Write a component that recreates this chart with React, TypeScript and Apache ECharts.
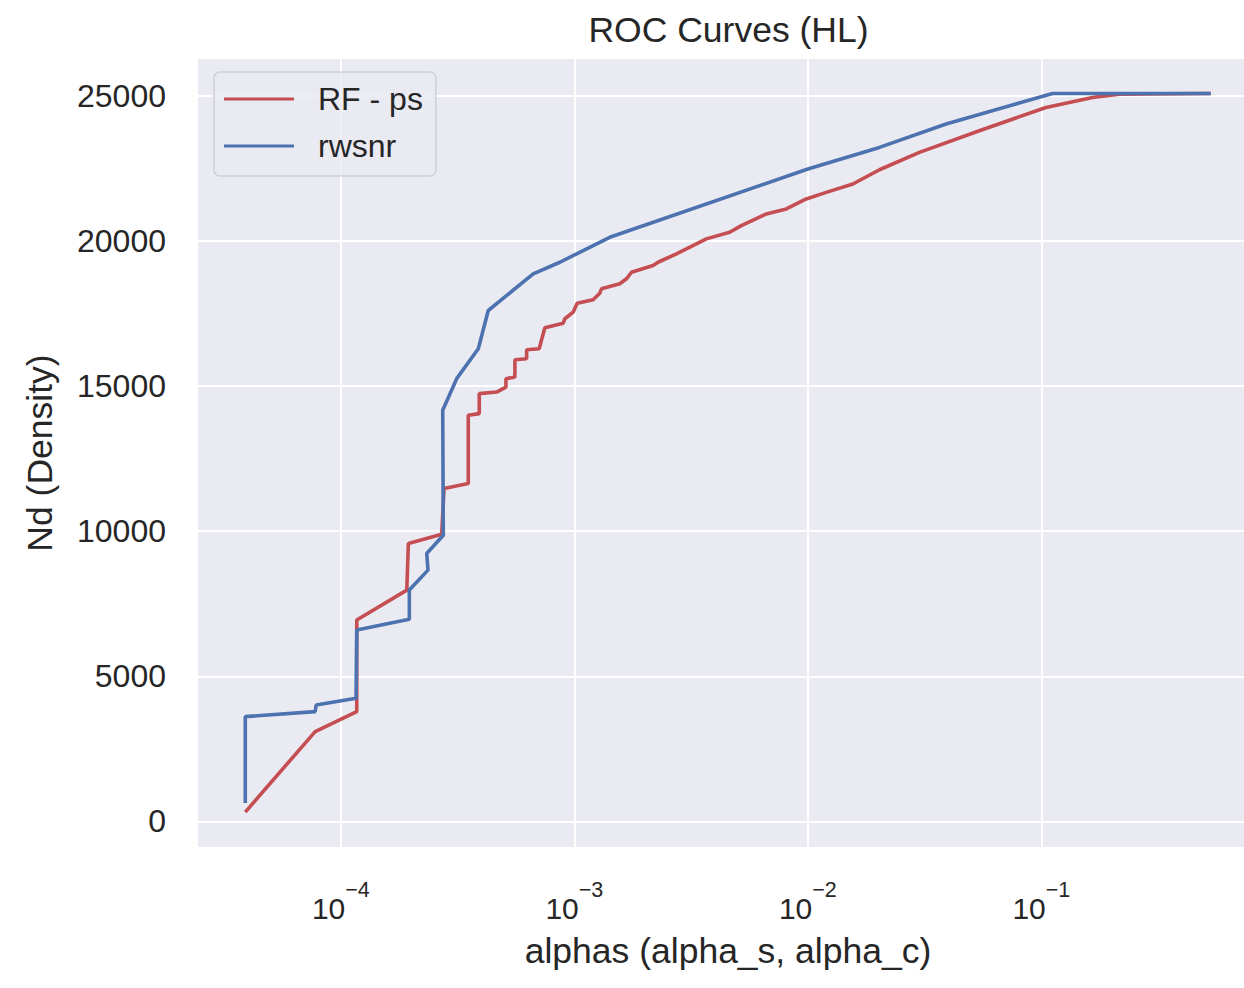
import React, { useEffect, useRef } from "react";
import * as echarts from "echarts";

const TITLE = "ROC Curves (HL)";
const X_NAME = "alphas (alpha_s, alpha_c)";
const Y_NAME = "Nd (Density)";
const SERIES_NAMES = ["RF - ps", "rwsnr"];
const Y_TICKS = [0, 5000, 10000, 15000, 20000, 25000];

// RF - ps : alpha values and Nd values
const rfAlpha = [
  3.897e-5, 7.765e-5, 1.17e-4, 1.17e-4, 1.916e-4, 1.946e-4, 2.704e-4, 2.766e-4,
  3.513e-4, 3.513e-4, 3.915e-4, 3.915e-4, 4.647e-4, 5.093e-4, 5.093e-4, 5.565e-4,
  5.565e-4, 6.246e-4, 6.246e-4, 7.07e-4, 7.238e-4, 7.477e-4, 8.955e-4, 9.107e-4,
  9.883e-4, 1.028e-3, 1.203e-3, 1.285e-3, 1.307e-3, 1.565e-3, 1.672e-3, 1.757e-3,
  2.173e-3, 2.283e-3, 2.736e-3, 3.675e-3, 4.625e-3, 5.189e-3, 6.639e-3, 8.084e-3,
  9.845e-3, 0.01199, 0.01558, 0.02026, 0.03004, 0.05424, 0.1046, 0.1656, 0.2154, 0.5313,
];
const rfNd = [
  323, 3096, 3784, 6938, 7970, 9577, 9897, 11469,
  11641, 13990, 14049, 14737, 14792, 14964, 15253, 15308,
  15906, 15941, 16251, 16285, 16595, 17007, 17165, 17317,
  17544, 17853, 17970, 18197, 18349, 18521, 18693, 18920,
  19150, 19264, 19553, 20069, 20296, 20526, 20928, 21100,
  21445, 21672, 21960, 22450, 23048, 23794, 24596, 24940, 25056, 25077,
];

// rwsnr : alpha values and Nd values
const rwAlpha = [
  3.897e-5, 3.897e-5, 7.765e-5, 7.84e-5, 1.162e-4, 1.17e-4, 1.965e-4, 1.965e-4,
  2.362e-4, 2.332e-4, 2.747e-4, 2.731e-4, 3.133e-4, 3.878e-4, 4.279e-4, 6.665e-4,
  8.67e-4, 1.418e-3, 0.01, 0.02026, 0.03908, 0.1117, 0.5313,
];
const rwNd = [
  633, 3612, 3784, 4014, 4245, 6594, 6962, 7970,
  8658, 9233, 9862, 14163, 15253, 16285, 17602, 18865,
  19264, 20124, 22477, 23220, 24025, 25077, 25077,
];

const COLORS = ["#C44E52", "#4C72B0"];
const FONT = "'Liberation Sans', Arial, sans-serif";
const TEXT = "#262626";

export default function App() {
  const ref = useRef<HTMLDivElement>(null);
  useEffect(() => {
    if (!ref.current) return;
    const chart = echarts.init(ref.current, undefined, { renderer: "svg" });
    const rf = rfAlpha.map((a, i) => [a, rfNd[i]]);
    const rw = rwAlpha.map((a, i) => [a, rwNd[i]]);
    chart.setOption({
      animation: false,
      backgroundColor: "#ffffff",
      textStyle: { fontFamily: FONT, color: TEXT },
      title: {
        text: TITLE,
        left: 723.5,
        textAlign: "center",
        top: 7,
        textStyle: { fontFamily: FONT, fontSize: 35.5, fontWeight: "normal", color: TEXT },
      },
      grid: {
        left: 197,
        top: 58,
        right: 2,
        bottom: 140,
        show: true,
        backgroundColor: "#EAEAF2",
        borderWidth: 0,
      },
      legend: {
        orient: "vertical",
        left: 214,
        top: 72,
        padding: [9, 13, 12, 10],
        itemGap: 11,
        itemWidth: 70,
        itemHeight: 3,
        icon: "rect",
        backgroundColor: "rgba(234,234,242,0.8)",
        borderColor: "#CFCFD6",
        borderWidth: 1.5,
        borderRadius: 6,
        textStyle: {
          fontFamily: FONT,
          fontSize: 32,
          color: TEXT,
          lineHeight: 36,
          padding: [0, 0, 0, 19],
        },
        data: SERIES_NAMES,
      },
      xAxis: {
        type: "log",
        logBase: 10,
        min: Math.pow(10, -4.616),
        max: Math.pow(10, -0.068),
        name: X_NAME,
        nameLocation: "middle",
        nameGap: 85,
        nameTextStyle: { fontFamily: FONT, fontSize: 35.5, color: TEXT },
        axisLine: { show: false },
        axisTick: { show: false },
        minorTick: { show: false },
        splitLine: { show: true, lineStyle: { color: "#ffffff", width: 2 } },
        axisLabel: {
          margin: 31,
          formatter: (v: number) => {
            const l = Math.log10(v);
            const e = Math.round(l);
            if (Math.abs(l - e) > 1e-6) return "";
            return "{a|10}{b|\u2212" + Math.abs(e) + "}";
          },
          rich: {
            a: { fontFamily: FONT, fontSize: 30, color: TEXT, lineHeight: 58 },
            b: {
              fontFamily: FONT,
              fontSize: 21.5,
              color: TEXT,
              lineHeight: 21,
              verticalAlign: "top",
            },
          },
        },
      },
      yAxis: {
        type: "value",
        min: -915,
        max: 26300,
        name: Y_NAME,
        nameLocation: "middle",
        nameGap: 139,
        nameTextStyle: { fontFamily: FONT, fontSize: 35.5, color: TEXT },
        axisLine: { show: false },
        axisTick: { show: false },
        splitLine: { show: true, lineStyle: { color: "#ffffff", width: 2 } },
        axisLabel: {
          margin: 31,
          fontFamily: FONT,
          fontSize: 32,
          color: TEXT,
          formatter: (v: number) => (Y_TICKS.indexOf(v) >= 0 ? String(v) : ""),
        },
      },
      series: [
        {
          name: SERIES_NAMES[0],
          type: "line",
          data: rf,
          symbol: "none",
          lineStyle: { color: COLORS[0], width: 3.6 },
          itemStyle: { color: COLORS[0] },
        },
        {
          name: SERIES_NAMES[1],
          type: "line",
          data: rw,
          symbol: "none",
          lineStyle: { color: COLORS[1], width: 3.6 },
          itemStyle: { color: COLORS[1] },
        },
      ],
    });
    return () => chart.dispose();
  }, []);
  return (
    <div
      style={{
        position: "fixed",
        left: 0,
        top: 0,
        width: 1244,
        height: 988,
        overflow: "hidden",
        background: "#ffffff",
      }}
    >
      <div ref={ref} style={{ width: 1262, height: 988 }} />
    </div>
  );
}
